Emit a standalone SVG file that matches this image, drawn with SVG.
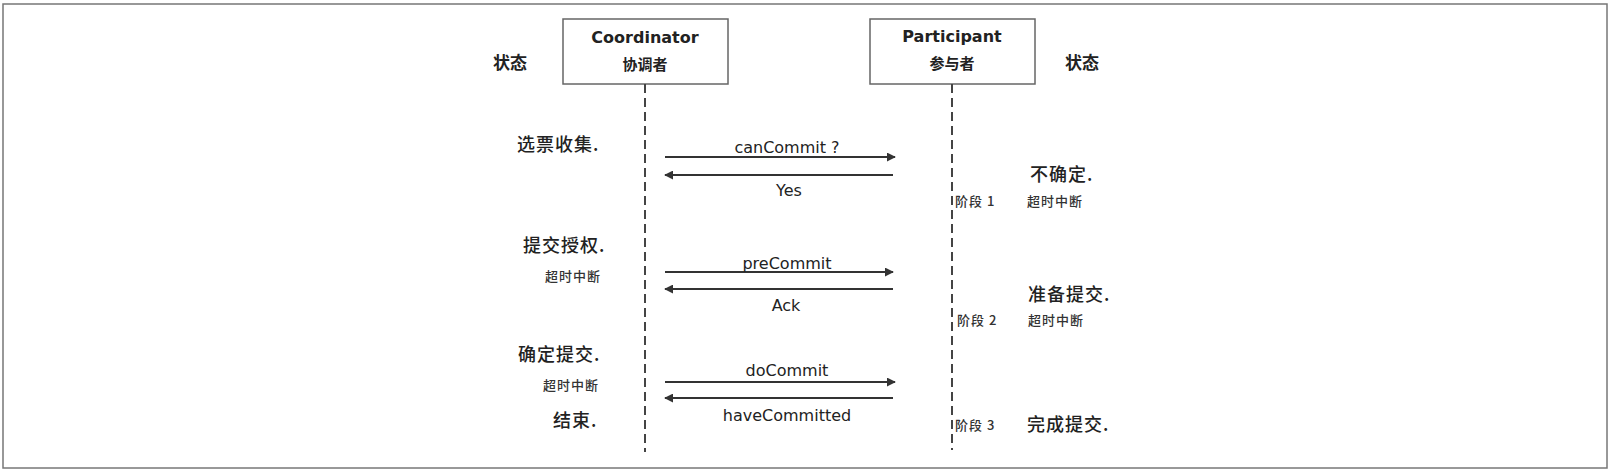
<svg xmlns="http://www.w3.org/2000/svg" width="1610" height="472" viewBox="0 0 1610 472">
<style>
.frame{fill:#fff;stroke:#777;stroke-width:1.5}
.box{fill:#fff;stroke:#666;stroke-width:1.5}
.life{stroke:#444;stroke-width:2;stroke-dasharray:9 5;fill:none}
.msg{stroke:#333;stroke-width:2;fill:none}
.en{font-family:"DejaVu Sans",sans-serif;font-size:16px;fill:#222}
.enb{font-family:"DejaVu Sans",sans-serif;font-size:16px;font-weight:bold;fill:#222}
.cn{font-family:"Noto Sans CJK SC",sans-serif;font-size:18px;font-weight:500;fill:#222;letter-spacing:1px}
.cnb{font-family:"Noto Sans CJK SC",sans-serif;font-size:17px;font-weight:bold;fill:#222}
.cns{font-family:"Noto Sans CJK SC",sans-serif;font-size:13px;font-weight:500;fill:#333;letter-spacing:1px}
.mid{text-anchor:middle}
</style>
<defs>
<marker id="ah" viewBox="0 0 10 10" refX="9" refY="5" markerWidth="4.5" markerHeight="4.5" orient="auto-start-reverse">
<path d="M0,0 L10,5 L0,10 z" fill="#333"/>
</marker>
</defs>
<rect class="frame" x="3" y="4" width="1604" height="464"/>

<g id="header-left"><text class="cnb" x="493" y="69">状态</text></g>
<g id="header-right"><text class="cnb" x="1065" y="69">状态</text></g>

<g id="coordinator">
<rect class="box" x="563" y="19" width="165" height="65"/>
<text class="enb mid" x="645" y="43">Coordinator</text>
<text class="cnb mid" x="645" y="70" style="font-size:15px">协调者</text>
</g>
<g id="participant">
<rect class="box" x="870" y="19" width="165" height="65"/>
<text class="enb mid" x="952" y="42">Participant</text>
<text class="cnb mid" x="952" y="69" style="font-size:15px">参与者</text>
</g>

<g id="connectors">
<line class="life" x1="645" y1="84" x2="645" y2="452"/>
<line class="life" x1="952" y1="84" x2="952" y2="450"/>
<line class="msg" x1="665" y1="157" x2="895" y2="157" marker-end="url(#ah)"/>
<line class="msg" x1="893" y1="175" x2="665" y2="175" marker-end="url(#ah)"/>
<line class="msg" x1="665" y1="272" x2="893" y2="272" marker-end="url(#ah)"/>
<line class="msg" x1="893" y1="289" x2="665" y2="289" marker-end="url(#ah)"/>
<line class="msg" x1="665" y1="382" x2="895" y2="382" marker-end="url(#ah)"/>
<line class="msg" x1="893" y1="398" x2="665" y2="398" marker-end="url(#ah)"/>
<text class="en mid" x="787" y="153">canCommit ?</text>
<text class="en mid" x="789" y="196">Yes</text>
<text class="en mid" x="787" y="269">preCommit</text>
<text class="en mid" x="786" y="311">Ack</text>
<text class="en mid" x="787" y="376">doCommit</text>
<text class="en mid" x="787" y="421">haveCommitted</text>
</g>

<g id="coordinator-states">
<text class="cn" x="517" y="151">选票收集.</text>
<text class="cn" x="523" y="252">提交授权.</text>
<text class="cns" x="545" y="281">超时中断</text>
<text class="cn" x="518" y="361">确定提交.</text>
<text class="cns" x="543" y="390">超时中断</text>
<text class="cn" x="553" y="427">结束.</text>
</g>

<g id="participant-states">
<text class="cn" x="1030" y="181">不确定.</text>
<text class="cns" x="955" y="206">阶段 1</text>
<text class="cns" x="1027" y="206">超时中断</text>
<text class="cn" x="1028" y="301">准备提交.</text>
<text class="cns" x="957" y="325">阶段 2</text>
<text class="cns" x="1028" y="325">超时中断</text>
<text class="cns" x="955" y="430">阶段 3</text>
<text class="cn" x="1027" y="431">完成提交.</text>
</g>
</svg>
